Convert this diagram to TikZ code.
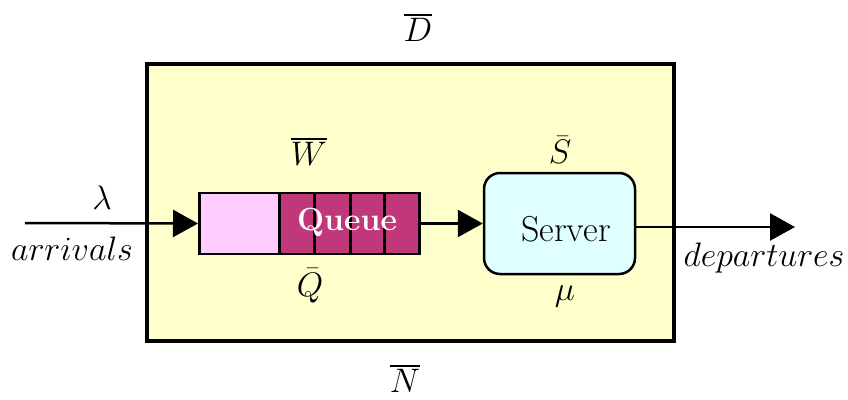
\RequirePackage{fix-cm}
\documentclass[tikz,border=0pt]{standalone}
\usepackage{fontspec}
\usetikzlibrary{arrows.meta}
\definecolor{boxyellow}{RGB}{255,255,204}
\definecolor{qpink}{RGB}{255,204,255}
\definecolor{qmag}{RGB}{192,56,122}
\definecolor{srvcyan}{RGB}{224,255,255}
\newcommand{\obar}[1]{\vbox{\hrule height 1.6pt\kern 2.5pt\hbox{$#1$}}}
\tikzset{
  lbl/.style={inner sep=0pt, font=\fontsize{34}{40}\selectfont},
  cell/.style={draw, line width=2.5pt, fill=qmag, minimum height=61pt, inner sep=0pt, anchor=west},
  flow/.style={line width=2.5pt, -{Triangle[length=25pt,width=27pt]}},
}
\begin{document}
\begin{tikzpicture}[x=1pt,y=-1pt]
\useasboundingbox (0,0) rectangle (848,399);
\node[draw, line width=4pt, fill=boxyellow, minimum width=527pt, minimum height=277pt, inner sep=0pt] (sys) at (410.5,202.5) {};
% queue
\node[draw, line width=2.5pt, fill=qpink, minimum width=80pt, minimum height=61pt, inner sep=0pt, anchor=west] (wait) at (198,223.5) {};
\node[cell, minimum width=35pt] (c1) at (278,223.5) {};
\node[cell, minimum width=36pt] (c2) at (313,223.5) {};
\node[cell, minimum width=34pt] (c3) at (349,223.5) {};
\node[cell, minimum width=35pt] (c4) at (383,223.5) {};
\node[text=white, font=\rmfamily\fontsize{32}{40}\selectfont\bfseries, inner sep=0pt] (qtxt) at (347,222) {Queue};
% server
\node[draw, line width=2.5pt, fill=srvcyan, rounded corners=16pt, minimum width=151pt, minimum height=101pt, inner sep=0pt] (srv) at (559.5,223.5) {};
\node[font=\rmfamily\fontsize{36}{40}\selectfont, inner sep=0pt] (stxt) at (566,229) {Server};
% connectors
\coordinate (in) at (25,223);
\coordinate (out) at (795,227);
\draw[flow] (in) -- (wait.west);
\draw[flow] (c4.east) -- (srv.west);
\draw[flow] (srv.east |- out) -- (out);
% labels
\node[lbl] (D) at (418,28) {\obar{D}};
\node[lbl] (N) at (405,379) {\obar{N}};
\node[lbl] (W) at (309,152) {\obar{W}};
\node[lbl] (Q) at (310,286) {$\bar{Q}$};
\node[lbl] (S) at (560,150) {$\bar{S}$};
\node[lbl] (mu) at (565,296) {$\mu$};
\node[lbl] (lam) at (102,198) {$\lambda$};
\node[lbl, anchor=base] (arr) at (72,260) {$arrivals$};
\node[lbl, anchor=base] (dep) at (764,266) {$departures$};
\end{tikzpicture}
\end{document}
